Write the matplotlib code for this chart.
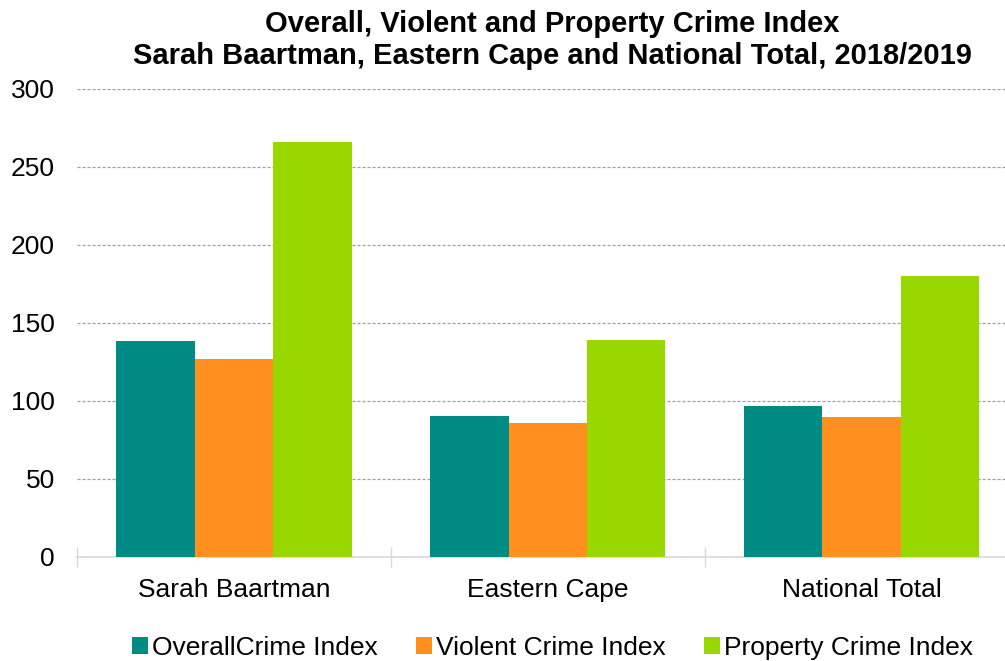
import numpy as np
import matplotlib.pyplot as plt
from matplotlib.ticker import FixedLocator

plt.rcParams['font.family'] = ['Liberation Sans', 'DejaVu Sans']

# data
regions = ['Sarah Baartman', 'Eastern Cape', 'National Total']
overall = [138.3, 90.1, 97.1]
violent = [126.8, 85.6, 89.6]
property_ = [266.3, 139.4, 180.1]
series_names = ['OverallCrime Index', 'Violent Crime Index', 'Property Crime Index']
colors = ['#008C84', '#FF8F1F', '#98D700']

fig = plt.figure(figsize=(10.05, 6.61), dpi=100)
ax = fig.add_axes([77 / 1005, 1 - 557 / 661, 1 - 77 / 1005, (557 - 89) / 661])

x = np.arange(len(regions))
w = 0.25
for i, (vals, name, c) in enumerate(zip([overall, violent, property_], series_names, colors)):
    ax.bar(x + (i - 1) * w, vals, w, color=c, label=name, zorder=3)

ax.set_xlim(-0.5, 2.457)
ax.set_ylim(0, 300)
ax.set_yticks(range(0, 301, 50))
ax.yaxis.grid(True, color='#a0a0a0', linestyle=(0, (2.5, 1.5)), linewidth=0.9, zorder=0)

ax.set_xticks(x)
ax.set_xticklabels(regions)
ax.xaxis.set_minor_locator(FixedLocator([-0.5, 0.5, 1.5]))
ax.tick_params(axis='x', which='major', length=0, pad=15, labelsize=19)
ax.tick_params(axis='x', which='minor', direction='inout', length=14, color='#d9d9d9', width=1)
ax.tick_params(axis='y', length=0, pad=16, labelsize=19)

for s in ['left', 'right', 'top']:
    ax.spines[s].set_visible(False)
ax.spines['bottom'].set_color('#d9d9d9')
ax.spines['bottom'].set_linewidth(1.2)

fig.text(552 / 1005, 1 - 10 / 661, 'Overall, Violent and Property Crime Index\n'
         'Sarah Baartman, Eastern Cape and National Total, 2018/2019',
         ha='center', va='top', fontsize=21, fontweight='bold', linespacing=1.2)

handles, labels = ax.get_legend_handles_labels()
fig.legend(handles, labels, loc='center', bbox_to_anchor=(552.5 / 1005, 1 - 648 / 661),
           ncol=3, frameon=False, fontsize=19, handlelength=0.6, handleheight=0.6,
           handletextpad=0.16, columnspacing=1.45, borderpad=0)

fig.savefig('out.png', dpi=100)
